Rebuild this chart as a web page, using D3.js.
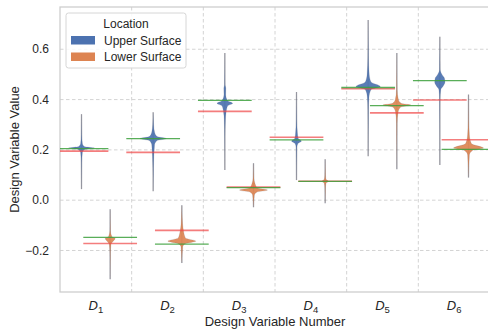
<!DOCTYPE html>
<html>
<head>
<meta charset="utf-8">
<script src="https://cdn.jsdelivr.net/npm/d3@7"></script>
<style>
  html, body { margin: 0; padding: 0; background: #fff; }
  svg { display: block; font-family: "Liberation Sans", Arial, sans-serif; }
</style>
</head>
<body>
<svg id="chart" width="488" height="329"></svg>
<script>
// Design variables on the x axis
const categories = ["1", "2", "3", "4", "5", "6"];
const locations = ["Upper Surface", "Lower Surface"];
const yTicks = [-0.2, 0.0, 0.2, 0.4, 0.6];

// Violin profiles: [value, half-width as a fraction of the category step]
const upperProfiles = [
  [[0.342,0],[0.26,0.003],[0.225,0.012],[0.213,0.04],[0.207,0.18],[0.201,0.04],[0.19,0.012],[0.15,0.003],[0.044,0]],
  [[0.35,0],[0.30,0.006],[0.27,0.02],[0.253,0.055],[0.245,0.185],[0.237,0.055],[0.22,0.02],[0.13,0.004],[0.036,0]],
  [[0.585,0],[0.46,0.003],[0.445,0.014],[0.42,0.012],[0.395,0.04],[0.385,0.11],[0.375,0.04],[0.35,0.018],[0.32,0.008],[0.25,0.002],[0.12,0]],
  [[0.43,0],[0.32,0.003],[0.27,0.012],[0.245,0.025],[0.235,0.07],[0.225,0.02],[0.21,0.005],[0.08,0]],
  [[0.716,0],[0.57,0.004],[0.5,0.015],[0.47,0.04],[0.452,0.17],[0.44,0.04],[0.41,0.012],[0.36,0.004],[0.175,0]],
  [[0.65,0],[0.52,0.004],[0.5,0.03],[0.485,0.065],[0.47,0.072],[0.455,0.05],[0.44,0.014],[0.40,0.003],[0.14,0]]
];
const lowerProfiles = [
  [[-0.036,0],[-0.12,0.003],[-0.145,0.025],[-0.152,0.07],[-0.162,0.045],[-0.175,0.012],[-0.21,0.003],[-0.314,0]],
  [[-0.02,0],[-0.07,0.005],[-0.12,0.022],[-0.15,0.05],[-0.163,0.195],[-0.172,0.055],[-0.185,0.012],[-0.25,0]],
  [[0.147,0],[0.09,0.005],[0.065,0.022],[0.048,0.055],[0.04,0.195],[0.032,0.045],[0.02,0.012],[-0.028,0]],
  [[0.163,0],[0.1,0.004],[0.083,0.012],[0.075,0.045],[0.067,0.012],[0.05,0.004],[-0.012,0]],
  [[0.585,0],[0.44,0.004],[0.4,0.022],[0.385,0.06],[0.378,0.195],[0.37,0.055],[0.35,0.018],[0.305,0.004],[0.123,0]],
  [[0.42,0],[0.32,0.003],[0.26,0.012],[0.225,0.04],[0.207,0.21],[0.198,0.055],[0.18,0.012],[0.09,0]]
];

// Reference levels per design variable (green and red lines)
const targetUpper = [0.205, 0.245, 0.397, 0.240, 0.448, 0.475];
const priorUpper  = [0.195, 0.190, 0.353, 0.250, 0.443, 0.398];
const targetLower = [-0.148, -0.175, 0.050, 0.075, 0.376, 0.202];
const priorLower  = [-0.172, -0.120, 0.052, 0.075, 0.347, 0.240];

const colors = { "Upper Surface": "#4C72B0", "Lower Surface": "#DD8452" };

const margin = { left: 60, right: -2, top: 7, bottom: 37 };
const W = 488, H = 329;
const svg = d3.select("#chart");

const x = d3.scaleBand().domain(categories)
  .range([margin.left, W - margin.right]).paddingInner(0).paddingOuter(0);
const step = x.step();
const y = d3.scaleLinear().domain([-0.365, 0.768])
  .range([H - margin.bottom, margin.top]);

const plotL = margin.left, plotR = W - margin.right;
const plotT = margin.top, plotB = H - margin.bottom;

svg.append("defs").append("clipPath").attr("id", "plotClip")
  .append("rect").attr("x", plotL).attr("y", plotT)
  .attr("width", plotR - plotL).attr("height", plotB - plotT);

// Grid
const grid = svg.append("g").attr("stroke", "#cfcfcf").attr("stroke-width", 0.9)
  .attr("stroke-dasharray", "3.5,2.5");
grid.selectAll("line.h").data(yTicks).join("line")
  .attr("x1", plotL).attr("x2", plotR)
  .attr("y1", d => y(d)).attr("y2", d => y(d));
grid.selectAll("line.v").data(categories.slice(1)).join("line")
  .attr("x1", d => x(d)).attr("x2", d => x(d))
  .attr("y1", plotT).attr("y2", plotB);

// Frame
svg.append("rect").attr("x", plotL).attr("y", plotT)
  .attr("width", plotR - plotL).attr("height", plotB - plotT)
  .attr("fill", "none").attr("stroke", "#cccccc").attr("stroke-width", 1.25);

const plot = svg.append("g").attr("clip-path", "url(#plotClip)");

const dodge = 0.2 * step;
const pos = (cat, loc) => x(cat) + step / 2 + (loc === "Upper Surface" ? -dodge : dodge);

const violins = [];
categories.forEach((c, i) => {
  violins.push({ cat: c, loc: "Upper Surface", profile: upperProfiles[i], target: targetUpper[i], prior: priorUpper[i] });
  violins.push({ cat: c, loc: "Lower Surface", profile: lowerProfiles[i], target: targetLower[i], prior: priorLower[i] });
});

const area = d3.area()
  .y(d => y(d[0]))
  .curve(d3.curveMonotoneY);

violins.forEach(v => {
  const cx = pos(v.cat, v.loc);
  const g = plot.append("g");
  area.x0(d => cx - d[1] * step).x1(d => cx + d[1] * step);
  const ext = d3.extent(v.profile, d => d[0]);
  g.append("line")
    .attr("x1", cx).attr("x2", cx)
    .attr("y1", y(ext[0])).attr("y2", y(ext[1]))
    .attr("stroke", "rgba(120,120,130,0.6)").attr("stroke-width", 1.3);
  g.append("path").datum(v.profile)
    .attr("d", area)
    .attr("fill", colors[v.loc])
    .attr("fill-opacity", 0.92)
    .attr("stroke", "rgba(90,90,100,0.35)").attr("stroke-width", 0.4);
});

// Reference lines
const halfLen = 0.375 * step;
violins.forEach(v => {
  const cx = pos(v.cat, v.loc);
  plot.append("line")
    .attr("x1", cx - halfLen).attr("x2", cx + halfLen)
    .attr("y1", y(v.prior)).attr("y2", y(v.prior))
    .attr("stroke", "rgba(240,70,70,0.7)").attr("stroke-width", 1.6);
  plot.append("line")
    .attr("x1", cx - halfLen).attr("x2", cx + halfLen)
    .attr("y1", y(v.target)).attr("y2", y(v.target))
    .attr("stroke", "rgba(60,160,60,0.85)").attr("stroke-width", 1.3);
});

// Y axis tick labels
svg.append("g").selectAll("text").data(yTicks).join("text")
  .attr("x", plotL - 11).attr("y", d => y(d)).attr("dy", "0.35em")
  .attr("text-anchor", "end").attr("font-size", 12).attr("fill", "#262626")
  .text(d => d3.format(".1f")(d).replace("-", "\u2212"));

// X axis tick labels: italic D with subscript
const xt = svg.append("g").selectAll("text").data(categories).join("text")
  .attr("x", d => x(d) + step / 2).attr("y", plotB + 18)
  .attr("text-anchor", "middle").attr("font-size", 13).attr("fill", "#262626")
  .attr("font-style", "italic");
xt.append("tspan").text("D");
xt.append("tspan").attr("font-size", 9.5).attr("font-style", "normal").attr("dy", 3).text(d => d);

// Axis titles
svg.append("text")
  .attr("x", (plotL + plotR) / 2).attr("y", 326)
  .attr("text-anchor", "middle").attr("font-size", 13).attr("fill", "#262626")
  .text("Design Variable Number");
svg.append("text")
  .attr("transform", `translate(19,${(plotT + plotB) / 2}) rotate(-90)`)
  .attr("text-anchor", "middle").attr("font-size", 13).attr("fill", "#262626")
  .text("Design Variable Value");

// Legend
const lg = svg.append("g");
lg.append("rect").attr("x", 66).attr("y", 13).attr("width", 120).attr("height", 55)
  .attr("rx", 2.5).attr("fill", "rgba(255,255,255,0.85)")
  .attr("stroke", "#d6d6d6").attr("stroke-width", 1);
lg.append("text").attr("x", 126).attr("y", 27.5).attr("text-anchor", "middle")
  .attr("font-size", 12).attr("fill", "#262626").text("Location");
locations.forEach((loc, i) => {
  lg.append("rect").attr("x", 71).attr("y", 36 + i * 16.5).attr("width", 24).attr("height", 8.5)
    .attr("fill", colors[loc]);
  lg.append("text").attr("x", 104).attr("y", 44.5 + i * 16.5)
    .attr("font-size", 12).attr("fill", "#262626").text(loc);
});
</script>
</body>
</html>
